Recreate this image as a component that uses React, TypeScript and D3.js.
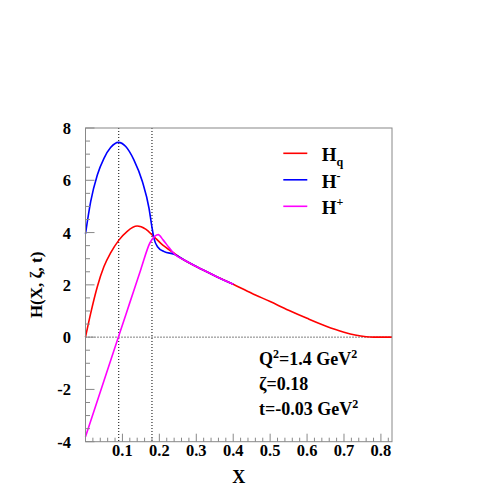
import React from "react";
import * as d3 from "d3";

// H_q (red)
const hqX = [0, 0.014, 0.032, 0.05, 0.068, 0.091, 0.113, 0.14, 0.163, 0.184, 0.204, 0.24, 0.267, 0.3, 0.35, 0.4, 0.45, 0.5, 0.55, 0.6, 0.65, 0.7, 0.73, 0.76, 0.78, 0.83];
const hqY = [0, 0.91, 1.93, 2.7, 3.22, 3.72, 4.05, 4.25, 4.13, 3.86, 3.59, 3.21, 2.95, 2.7, 2.35, 2.02, 1.68, 1.36, 1.03, 0.72, 0.43, 0.19, 0.08, 0.015, 0, 0];

// H- (blue)
const hmX = [0, 0.014, 0.032, 0.05, 0.068, 0.089, 0.109, 0.131, 0.154, 0.172, 0.18, 0.186, 0.195, 0.213, 0.24, 0.267, 0.3, 0.35, 0.4];
const hmY = [3.95, 5.18, 6.2, 6.84, 7.25, 7.45, 7.29, 6.78, 5.95, 4.93, 4.2, 3.75, 3.46, 3.27, 3.17, 2.95, 2.7, 2.35, 2.02];

// H+ (magenta)
const hpX = [0, 0.05, 0.09, 0.12, 0.15, 0.175, 0.188, 0.197, 0.21, 0.225, 0.24, 0.267, 0.3, 0.35, 0.4];
const hpY = [-3.81, -1.67, 0.04, 1.32, 2.6, 3.62, 3.86, 3.92, 3.72, 3.45, 3.19, 2.95, 2.7, 2.35, 2.02];

const xTicks = [0.1, 0.2, 0.3, 0.4, 0.5, 0.6, 0.7, 0.8];
const yTicks = [-4, -2, 0, 2, 4, 6, 8];
const guideX = [0.09, 0.18];

const W = 491;
const H = 491;
const left = 85.5;
const right = 392;
const top = 128;
const bottom = 441.7;
const font = "'Liberation Serif', 'Times New Roman', serif";

export default function App() {
  const x = d3.scaleLinear().domain([0, 0.83]).range([left, right]);
  const y = d3.scaleLinear().domain([-4, 8]).range([bottom, top]);

  const line = d3
    .line<[number, number]>()
    .x((d) => x(d[0]))
    .y((d) => y(d[1]))
    .curve(d3.curveMonotoneX);

  const zip = (xs: number[], ys: number[]) => xs.map((v, i) => [v, ys[i]] as [number, number]);

  const xMinor = d3.range(0, 0.8301, 0.02).filter((v) => Math.abs(v * 10 - Math.round(v * 10)) > 1e-6);
  const yMinor = d3.range(-4, 8.001, 0.5).filter((v) => v % 2 !== 0);

  const series = [
    { pts: zip(hqX, hqY), color: "#ff0000" },
    { pts: zip(hmX, hmY), color: "#0000ff" },
    { pts: zip(hpX, hpY), color: "#ff00ff" },
  ];

  const legend = [
    { color: "#ff0000", sub: "q", sup: "" },
    { color: "#0000ff", sub: "", sup: "-" },
    { color: "#ff00ff", sub: "", sup: "+" },
  ];

  return (
    <svg width={W} height={H} style={{ position: "absolute", left: 0, top: 0, background: "#fff" }} fontFamily={font} fontWeight="bold">
      <rect width={W} height={H} fill="#fff" />

      {/* guides */}
      <line x1={left} x2={right} y1={y(0)} y2={y(0)} stroke="#000" strokeDasharray="1,2" />
      {guideX.map((g) => (
        <line key={g} x1={x(g)} x2={x(g)} y1={top} y2={bottom} stroke="#000" strokeDasharray="1,2" />
      ))}

      {/* curves */}
      {series.map((s, i) => (
        <path key={i} d={line(s.pts) || ""} fill="none" stroke={s.color} strokeWidth={1.6} />
      ))}

      {/* frame */}
      <rect x={left} y={top} width={right - left} height={bottom - top} fill="none" stroke="#888" />

      {/* x axis ticks */}
      {xTicks.map((t) => (
        <g key={t}>
          <line x1={x(t)} x2={x(t)} y1={bottom} y2={bottom - 8} stroke="#888" />
          <text x={x(t)} y={456} textAnchor="middle" fontSize={16.5}>
            {t.toFixed(1)}
          </text>
        </g>
      ))}
      {xMinor.map((t) => (
        <line key={t} x1={x(t)} x2={x(t)} y1={bottom} y2={bottom - 4} stroke="#888" />
      ))}

      {/* y axis ticks */}
      {yTicks.map((t) => (
        <g key={t}>
          <line x1={left} x2={left + 9} y1={y(t)} y2={y(t)} stroke="#888" />
          <text x={71} y={y(t) + 6} textAnchor="end" fontSize={16.5}>
            {t}
          </text>
        </g>
      ))}
      {yMinor.map((t) => (
        <line key={t} x1={left} x2={left + 4.5} y1={y(t)} y2={y(t)} stroke="#888" />
      ))}

      {/* axis titles */}
      <text x={(left + right) / 2} y={483} textAnchor="middle" fontSize={18}>
        X
      </text>
      <text transform={`translate(42,${(top + bottom) / 2}) rotate(-90)`} textAnchor="middle" fontSize={17}>
        H(X, ζ, t)
      </text>

      {/* legend */}
      {legend.map((l, i) => {
        const ly = 153.3 + i * 26.5;
        return (
          <g key={i}>
            <line x1={283.3} x2={307.3} y1={ly} y2={ly} stroke={l.color} strokeWidth={1.6} />
            <text x={321.7} y={ly + 8} fontSize={19}>
              H
              {l.sub && (
                <tspan fontSize={12} dy={5}>
                  {l.sub}
                </tspan>
              )}
              {l.sup && (
                <tspan fontSize={12} dy={-8}>
                  {l.sup}
                </tspan>
              )}
            </text>
          </g>
        );
      })}

      {/* annotations */}
      <text x={259} y={365} fontSize={18}>
        Q<tspan fontSize={12} dy={-7}>2</tspan>
        <tspan dy={7}>=1.4 GeV</tspan>
        <tspan fontSize={12} dy={-7}>2</tspan>
      </text>
      <text x={259} y={390} fontSize={18}>
        ζ=0.18
      </text>
      <text x={259} y={415} fontSize={18}>
        t=-0.03 GeV<tspan fontSize={12} dy={-7}>2</tspan>
      </text>
    </svg>
  );
}
